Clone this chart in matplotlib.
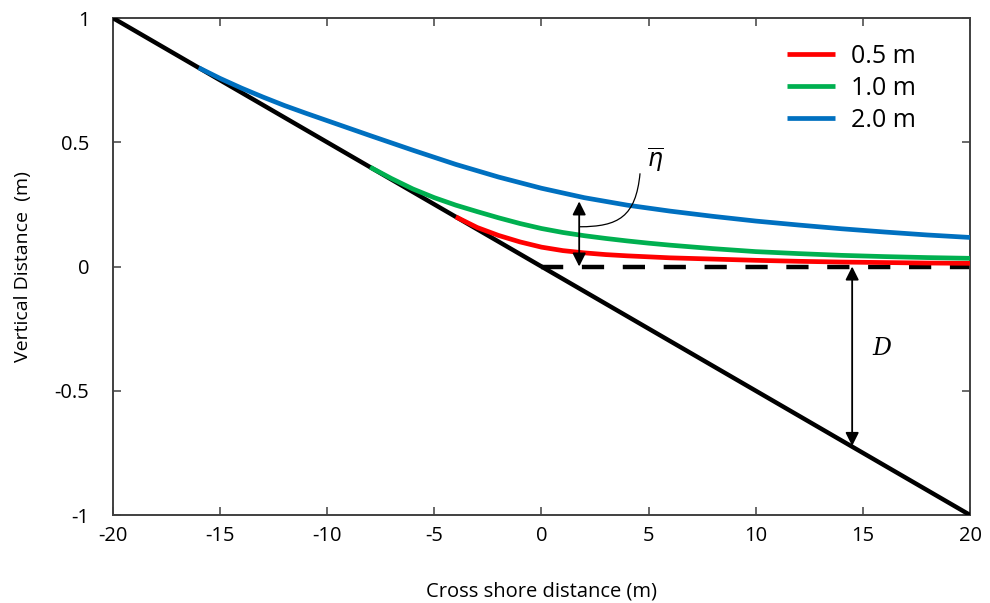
import matplotlib
matplotlib.use("Agg")
import matplotlib.pyplot as plt
from matplotlib.patches import FancyArrowPatch, PathPatch
from matplotlib.path import Path

plt.rcParams["font.family"] = ["Open Sans", "DejaVu Sans"]
plt.rcParams["axes.unicode_minus"] = False

# Sloping bed profile
bed_x = [-20, 20]
bed_y = [1, -1]

# Still water level
swl_x = [0, 20]
swl_y = [0, 0]

# Mean water level (setup) for each wave height
x_05 = [-4, -3, -2, -1, 0, 1, 2, 3, 4, 5, 6, 8, 10, 12, 14, 16, 18, 20]
y_05 = [0.200, 0.157, 0.125, 0.099, 0.078, 0.064, 0.055, 0.048, 0.043, 0.039,
        0.035, 0.030, 0.025, 0.021, 0.018, 0.016, 0.014, 0.013]

x_10 = [-8, -7, -6, -5, -4, -3, -2, -1, 0, 1, 2, 3, 4, 5, 6, 8, 10, 12, 14, 16, 18, 20]
y_10 = [0.400, 0.354, 0.312, 0.277, 0.247, 0.221, 0.196, 0.173, 0.153, 0.137,
        0.124, 0.113, 0.103, 0.094, 0.086, 0.072, 0.060, 0.052, 0.045, 0.040,
        0.036, 0.033]

x_20 = [-16, -15, -14, -13, -12, -11, -10, -8, -6, -4, -2, 0, 2, 4, 6, 8, 10, 12, 14, 16, 18, 20]
y_20 = [0.800, 0.757, 0.718, 0.682, 0.648, 0.617, 0.587, 0.527, 0.468, 0.411,
        0.360, 0.315, 0.277, 0.247, 0.223, 0.202, 0.183, 0.167, 0.152, 0.139,
        0.127, 0.117]

labels = ["0.5 m", "1.0 m", "2.0 m"]
colors = ["#FF0000", "#00B050", "#0070C0"]

x_ticks = [-20, -15, -10, -5, 0, 5, 10, 15, 20]
y_ticks = [-1, -0.5, 0, 0.5, 1]
y_tick_labels = ["-1", "-0.5", "0", "0.5", "1"]

# Annotation positions
eta_x, eta_bottom, eta_top = 1.76, 0.0, 0.262
d_x, d_top, d_bottom = 14.5, 0.0, -0.722

fig = plt.figure(figsize=(9.9, 6.03), dpi=100)
ax = fig.add_axes([0.1141, 0.1459, 0.8657, 0.8242])

ax.plot(bed_x, bed_y, color="black", lw=3.2, solid_capstyle="butt", zorder=3)
ax.plot(swl_x, swl_y, color="black", lw=3.2, dashes=(5.0, 4.2), zorder=2)

for xs, ys, c, lab in [(x_05, y_05, colors[0], labels[0]),
                       (x_10, y_10, colors[1], labels[1]),
                       (x_20, y_20, colors[2], labels[2])]:
    ax.plot(xs, ys, color=c, lw=3.4, label=lab, zorder=4, solid_capstyle="butt")

# Setup arrow
ax.add_patch(FancyArrowPatch((eta_x, eta_bottom), (eta_x, eta_top),
                             arrowstyle="<|-|>", mutation_scale=20,
                             color="black", lw=1.3, shrinkA=0, shrinkB=0, zorder=5))
# Leader from the arrow to the label
verts = [(eta_x, 0.16), (3.6, 0.16), (4.4, 0.20), (4.6, 0.375)]
leader = Path(verts, [Path.MOVETO, Path.CURVE4, Path.CURVE4, Path.CURVE4])
ax.add_patch(PathPatch(leader, fill=False, color="black", lw=0.9, zorder=5))
ax.text(5.3, 0.43, r"$\overline{\eta}$", fontsize=17, ha="center", va="center")

# Depth arrow
ax.add_patch(FancyArrowPatch((d_x, d_top), (d_x, d_bottom),
                             arrowstyle="<|-|>", mutation_scale=20,
                             color="black", lw=1.3, shrinkA=0, shrinkB=0, zorder=5))
ax.text(15.9, -0.33, "D", fontsize=17, style="italic", ha="center", va="center",
        fontfamily="DejaVu Serif")

ax.set_xlim(-20, 20)
ax.set_ylim(-1, 1)
ax.set_xticks(x_ticks)
ax.set_xticklabels([str(t) for t in x_ticks])
ax.set_yticks(y_ticks)
ax.set_yticklabels(y_tick_labels)
ax.tick_params(direction="in", length=6, width=1.1, top=True, right=True,
               labelsize=14.5, colors="#404040", labelcolor="black")
ax.tick_params(axis="x", pad=8)
ax.tick_params(axis="y", pad=17)
for s in ax.spines.values():
    s.set_linewidth(1.4)
    s.set_color("#404040")

ax.set_xlabel("Cross shore distance (m)", fontsize=14.5)
ax.set_ylabel("Vertical Distance  (m)", fontsize=14)
ax.xaxis.set_label_coords(0.5, -0.133)
ax.yaxis.set_label_coords(-0.094, 0.5)

ax.legend(loc="upper left", bbox_to_anchor=(787 / 990, 1 - 44 / 603),
          bbox_transform=fig.transFigure, frameon=False, fontsize=18,
          handlelength=1.9, handletextpad=0.65, labelspacing=0.28,
          borderpad=0, borderaxespad=0)

fig.savefig("out.png", dpi=100)
